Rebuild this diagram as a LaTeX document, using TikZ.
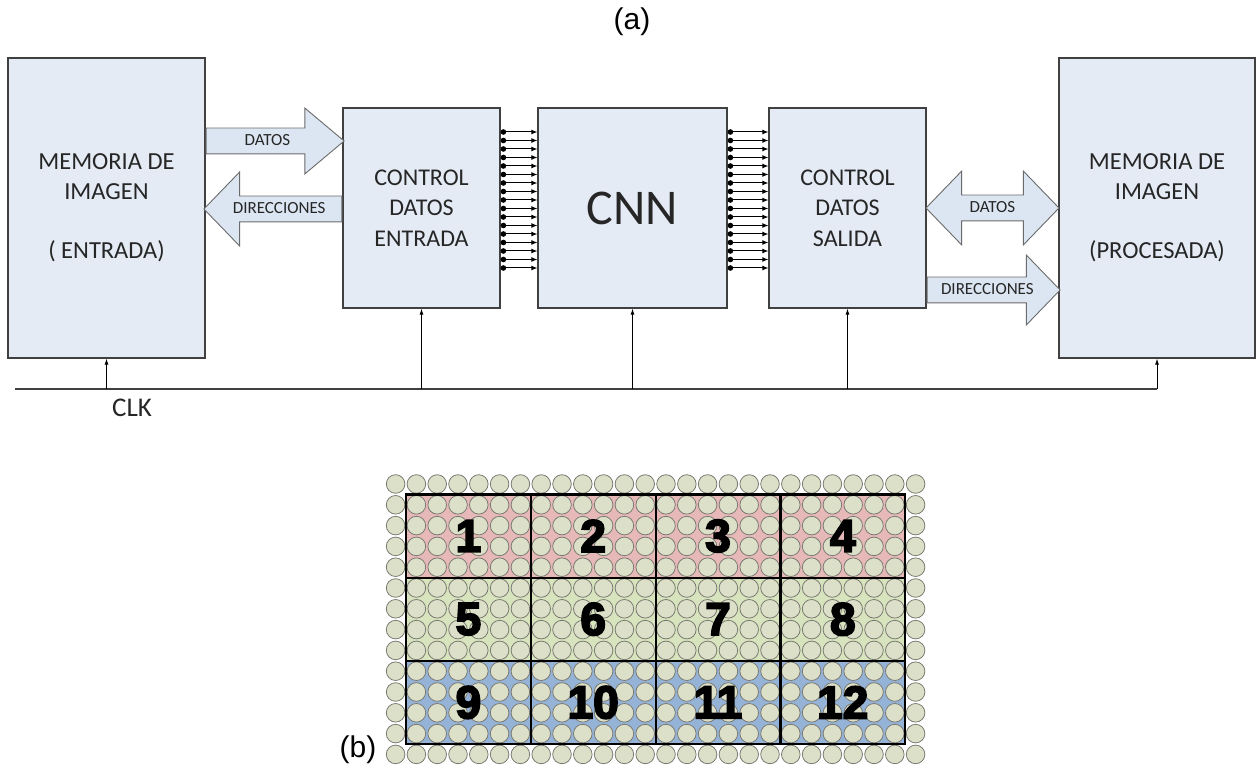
\documentclass[tikz,border=0pt]{standalone}
\usepackage{fontspec}
\setmainfont{Carlito}
\newfontfamily\arialfont{Liberation Sans}
\newfontfamily\numfont[FakeBold=4]{Liberation Sans Bold}
\usepackage{tikz}
\usetikzlibrary{arrows.meta}
\usetikzlibrary{calc}
\usetikzlibrary{positioning}
\usetikzlibrary{shapes.arrows}
\definecolor{boxfill}{HTML}{E4EBF5}
\definecolor{boxline}{HTML}{404040}
\definecolor{busfill}{HTML}{DCE6F2}
\definecolor{busline}{HTML}{6B6B6B}
\definecolor{txt}{HTML}{262626}
\definecolor{pinkblk}{HTML}{E6B9B8}
\definecolor{greenblk}{HTML}{D7E4BD}
\definecolor{blueblk}{HTML}{95B3D7}
\definecolor{dotfill}{HTML}{DDE0C9}
\definecolor{dotline}{HTML}{7A7A72}
\tikzset{
    block/.style = {draw=boxline,fill=boxfill,line width=1.3pt,text=txt,align=center,inner sep=0},
    memtext/.style = {font=\fontsize{24.5}{29.5}\selectfont},
    ctltext/.style = {font=\fontsize{24}{30.5}\selectfont},
    bus/.style = {draw=busline,fill=busfill,line width=0.9pt,text=txt,
        font=\fontsize{17}{17}\selectfont,inner xsep=2pt,inner ysep=7.5pt,
        text height=10pt,text depth=0pt},
    wire/.style = {line width=1pt,{Circle[length=5.5pt]}-{Latex[length=6pt,width=5pt]}},
    clkline/.style = {line width=1.3pt,draw=boxline},
    tick/.style = {line width=0.8pt,-{Latex[length=6pt,width=4pt]}}
}
\tikzset{
    dot/.style = {draw=dotline,fill=dotfill,line width=0.8pt},
    cell/.style = {draw=black,line width=2.2pt,minimum width=124.8pt,minimum height=83.2pt,
        inner sep=0,font=\numfont\fontsize{46}{46}\selectfont},
    caption/.style = {font=\arialfont\fontsize{30}{30}\selectfont}
}

\begin{document}
\begin{tikzpicture}[x=1pt,y=-1pt]
    \newcommand\gsep{20.8}
    \useasboundingbox (0,0) rectangle (1256,767);
    % Caption
    \node[caption] (capA) at (632,22) {(a)};
    % Blocks
    \node[block,memtext,minimum width=197pt,minimum height=300pt] (memIn) at (106.5,208)
        {MEMORIA DE\\IMAGEN\\[29.5pt]( ENTRADA)};
    \node[block,ctltext,minimum width=157pt,minimum height=200pt,right=136.7pt of memIn] (ctlIn)
        {CONTROL\\DATOS\\ENTRADA};
    \node[block,minimum width=189pt,minimum height=200pt,right=36.7pt of ctlIn,
        font=\fontsize{50}{50}\selectfont] (cnn) {CNN};
    \node[block,ctltext,minimum width=157pt,minimum height=200pt,right=40.7pt of cnn] (ctlOut)
        {CONTROL\\DATOS\\SALIDA};
    \node[block,memtext,minimum width=196pt,minimum height=300pt,right=131.7pt of ctlOut] (memOut)
        {MEMORIA DE\\IMAGEN\\[29.5pt](PROCESADA)};
    % Buses
    \node[bus,single arrow,single arrow head extend=20pt,single arrow tip angle=80,
        minimum height=138pt,anchor=tail] (datIn) at (memIn.east |- 0,141) {DATOS};
    \node[bus,single arrow,single arrow head extend=24pt,single arrow tip angle=92,
        shape border rotate=180,minimum height=138pt,anchor=tail] (dirIn) at (ctlIn.west |- 0,209)
        {DIRECCIONES};
    \node[bus,double arrow,double arrow head extend=24pt,double arrow tip angle=92,
        minimum height=133pt] (datOut) at ($(ctlOut.east |- 0,208)!0.5!(memOut.west |- 0,208)$)
        {DATOS};
    \node[bus,single arrow,single arrow head extend=22pt,single arrow tip angle=92,
        minimum height=133pt,anchor=tail] (dirOut) at (ctlOut.east |- 0,290) {DIRECCIONES};
    % Parallel wires
    \foreach \k in {0,...,16}{
        \draw[wire] (ctlIn.east |- 0,132+8.5*\k) -- (cnn.west |- 0,132+8.5*\k);
        \draw[wire] (cnn.east |- 0,132+8.5*\k) -- (ctlOut.west |- 0,132+8.5*\k);
    }
    % Clock
    \coordinate (clk0) at (15,389);
    \coordinate (clk1) at (memOut.south |- 0,389);
    \draw[clkline] (clk0) -- (clk1);
    \foreach \dest in {memIn,ctlIn,cnn,ctlOut,memOut}
        \draw[tick] (\dest.south |- clk1) -- (\dest.south);
    \node[text=txt,font=\fontsize{27}{27}\selectfont] (clkname) at (132,408) {CLK};
    % Image partition
    \foreach \c in {0,...,3}
        \foreach \r/\shade in {0/pinkblk,1/greenblk,2/blueblk}
            \fill[\shade] (406+124.8*\c,494.4+83.2*\r) rectangle ++(124.8,83.2);
    \foreach \i in {0,...,25}
        \foreach \j in {0,...,13}
            \draw[dot] (395.6+\gsep*\i,484+\gsep*\j) circle[radius=9.3pt];
    \foreach \n/\c/\r in {1/0/0,2/1/0,3/2/0,4/3/0,5/0/1,6/1/1,7/2/1,8/3/1,9/0/2,10/1/2,11/2/2,12/3/2}
        \node[cell] (cell\n) at ({406+124.8*(\c+0.5)},{494.4+83.2*(\r+0.5)}) {\n};
    \node[caption] (capB) at (358,750) {(b)};
\end{tikzpicture}
\end{document}
